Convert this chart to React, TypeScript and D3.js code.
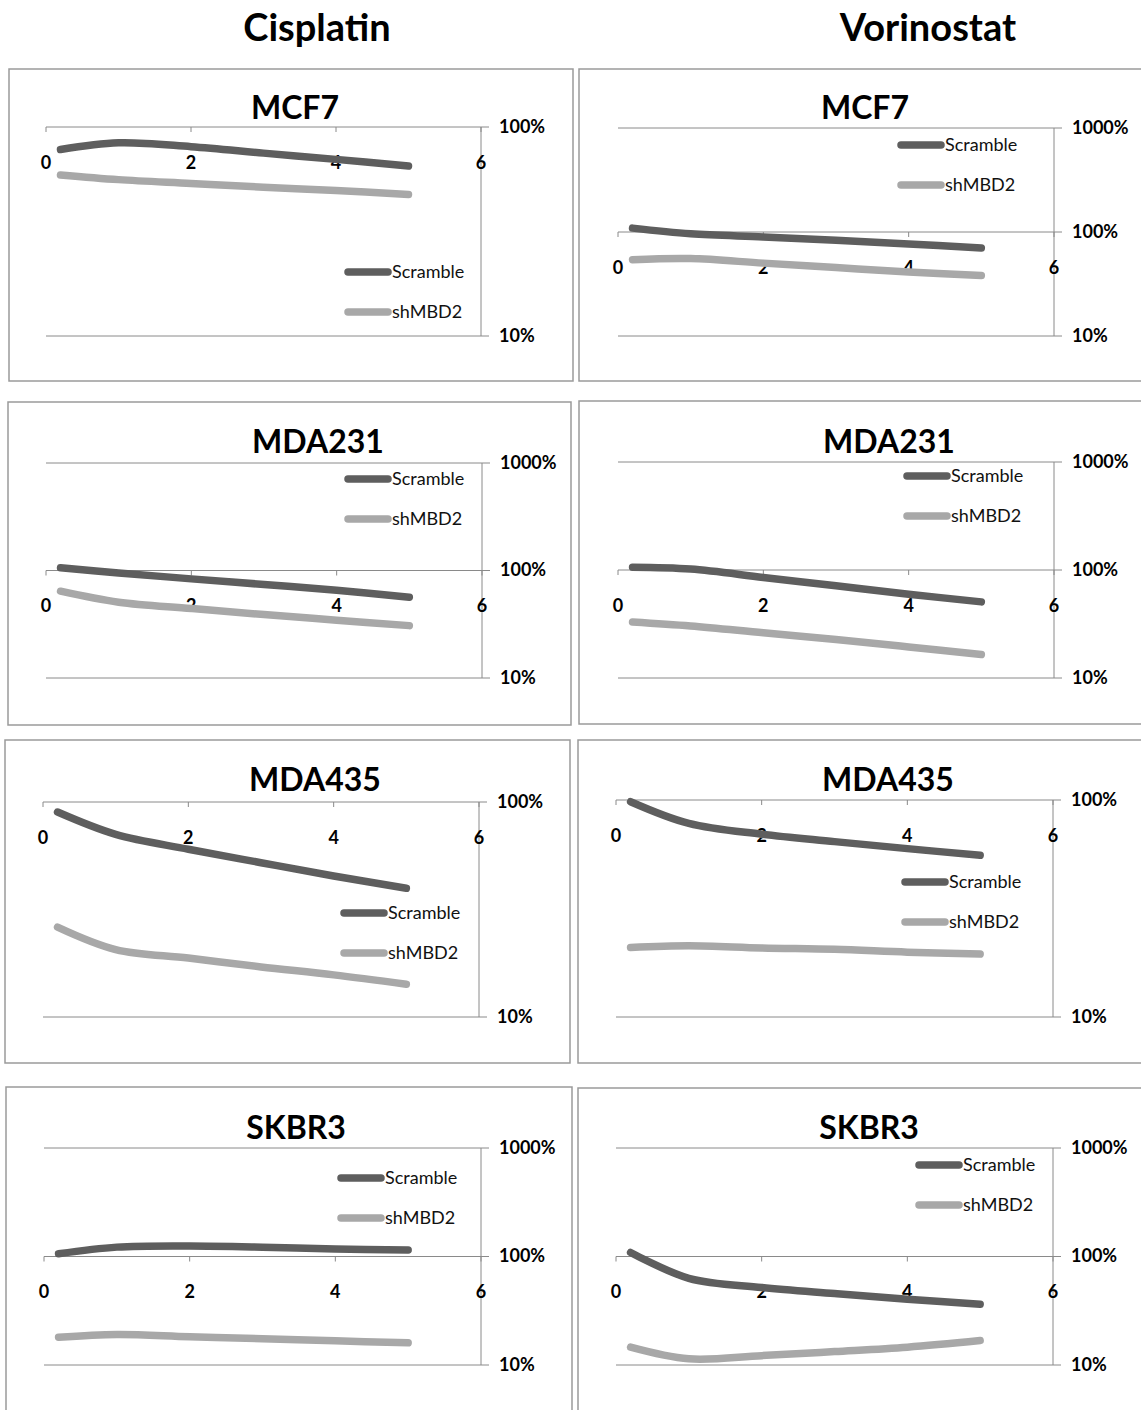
import React from "react";
import * as d3 from "d3";

// Drug columns and cell-line rows of the panel grid
const drugs = ["Cisplatin", "Vorinostat"];
const cellLines = ["MCF7", "MDA231", "MDA435", "SKBR3"];
const seriesNames = ["Scramble", "shMBD2"];

// Sampling positions along the x axis
const xValues = [0.2, 1, 2, 3, 4, 5];
const xTicks = [0, 2, 4, 6];

// Relative viability (%) per panel, Scramble vs shMBD2
const cisMCF7Scramble = [78, 84, 80.5, 75, 70, 65];
const cisMCF7Sh = [59, 56, 53.7, 51.5, 49.7, 47.5];
const vorMCF7Scramble = [109, 96, 89.6, 83.2, 76.7, 70.2];
const vorMCF7Sh = [54.2, 55.5, 50.2, 45.5, 41.3, 38.1];
const cisMDA231Scramble = [106, 95, 83.6, 74.1, 65.6, 56.5];
const cisMDA231Sh = [64.2, 50.7, 44.3, 38.9, 34.5, 30.7];
const vorMDA231Scramble = [106, 102, 85.4, 71.4, 59.7, 50.7];
const vorMDA231Sh = [33, 30.3, 26.2, 22.7, 19.4, 16.5];
const cisMDA435Scramble = [89.8, 70.7, 60.3, 52.2, 45.3, 39.7];
const cisMDA435Sh = [26.2, 20.6, 18.8, 17.1, 15.7, 14.2];
const vorMDA435Scramble = [98.2, 78, 69.5, 64.3, 59.7, 55.6];
const vorMDA435Sh = [20.9, 21.3, 20.8, 20.5, 19.9, 19.5];
const cisSKBR3Scramble = [106, 122, 125, 122, 117, 115];
const cisSKBR3Sh = [18, 19.1, 18.2, 17.5, 16.7, 16.0];
const vorSKBR3Scramble = [109, 63, 51.9, 45.6, 40.4, 36.3];
const vorSKBR3Sh = [14.6, 11.4, 12.2, 13.3, 14.6, 16.8];

// Upper end of each panel's log axis (%)
const axisMax = [100, 1000, 1000, 1000, 100, 100, 1000, 1000];

const panelSeries = [
  [cisMCF7Scramble, cisMCF7Sh],
  [vorMCF7Scramble, vorMCF7Sh],
  [cisMDA231Scramble, cisMDA231Sh],
  [vorMDA231Scramble, vorMDA231Sh],
  [cisMDA435Scramble, cisMDA435Sh],
  [vorMDA435Scramble, vorMDA435Sh],
  [cisSKBR3Scramble, cisSKBR3Sh],
  [vorSKBR3Scramble, vorSKBR3Sh],
];

// Panel geometry: frame box, plot extents, title and legend anchors
const layout = [
  { bx: 9, by: 69, bw: 564, bh: 312, x0: 46, x6: 481, yTop: 127, yBot: 336, tx: 295, ty: 119, lx: 348, ly: 272 },
  { bx: 579, by: 69, bw: 570, bh: 312, x0: 618, x6: 1054, yTop: 128, yBot: 336, tx: 865, ty: 119, lx: 901, ly: 145 },
  { bx: 8, by: 402, bw: 563, bh: 323, x0: 46, x6: 482, yTop: 463, yBot: 678, tx: 318, ty: 453, lx: 348, ly: 479 },
  { bx: 579, by: 401, bw: 570, bh: 323, x0: 618, x6: 1054, yTop: 462, yBot: 678, tx: 889, ty: 453, lx: 907, ly: 476 },
  { bx: 5, by: 740, bw: 565, bh: 323, x0: 43, x6: 479, yTop: 802, yBot: 1017, tx: 315, ty: 791, lx: 344, ly: 913 },
  { bx: 578, by: 740, bw: 570, bh: 323, x0: 616, x6: 1053, yTop: 800, yBot: 1017, tx: 888, ty: 791, lx: 905, ly: 882 },
  { bx: 6, by: 1087, bw: 566, bh: 340, x0: 44, x6: 481, yTop: 1148, yBot: 1365, tx: 296, ty: 1139, lx: 341, ly: 1178 },
  { bx: 578, by: 1088, bw: 570, bh: 340, x0: 616, x6: 1053, yTop: 1148, yBot: 1365, tx: 869, ty: 1139, lx: 919, ly: 1165 },
];

const headerX = [317, 928];
const colors = ["#5e5e5e", "#a8a8a8"];
const axisColor = "#8a8a8a";
const font = "Lato, 'Open Sans', sans-serif";

function Panel({ index }: { index: number }) {
  const g = layout[index];
  const top = axisMax[index];
  const x = d3.scaleLinear().domain([0, 6]).range([g.x0, g.x6]);
  const y = d3.scaleLog().domain([10, top]).range([g.yBot, g.yTop]);
  const decades = top === 1000 ? [10, 100, 1000] : [10, 100];
  const line = d3
    .line<[number, number]>()
    .x((d) => x(d[0]))
    .y((d) => y(d[1]))
    .curve(d3.curveCatmullRom.alpha(0.5));
  const axisY = y(100);
  const title = cellLines[Math.floor(index / 2)];

  return (
    <g>
      <rect x={g.bx} y={g.by} width={g.bw} height={g.bh} fill="#fff" stroke="#9a9a9a" strokeWidth={1.5} />
      <text x={g.tx} y={g.ty} textAnchor="middle" fontFamily={font} fontWeight="bold" fontSize={32} fill="#000">
        {title}
      </text>
      {/* decade gridlines with outward ticks on the right axis */}
      {decades.map((d) => (
        <g key={d}>
          <line x1={x(0)} x2={x(6) + 8} y1={y(d)} y2={y(d)} stroke={axisColor} strokeWidth={1} />
          <text x={x(6) + 18} y={y(d) + 1} dominantBaseline="middle" fontFamily={font} fontWeight="bold" fontSize={18} fill="#000">
            {d}%
          </text>
        </g>
      ))}
      {/* right value axis */}
      <line x1={x(6)} x2={x(6)} y1={y(top)} y2={y(10)} stroke={axisColor} strokeWidth={1} />
      {/* category axis crossing at 100% */}
      {xTicks.map((t) => (
        <g key={t}>
          <line x1={x(t)} x2={x(t)} y1={axisY} y2={axisY + 5} stroke={axisColor} strokeWidth={1} />
          <text x={x(t)} y={axisY + 37} textAnchor="middle" dominantBaseline="middle" fontFamily={font} fontWeight="bold" fontSize={18} fill="#000">
            {t}
          </text>
        </g>
      ))}
      {panelSeries[index].map((vals, si) => (
        <path
          key={si}
          d={line(xValues.map((xv, i) => [xv, vals[i]] as [number, number])) || ""}
          fill="none"
          stroke={colors[si]}
          strokeWidth={7.5}
          strokeLinecap="round"
          strokeLinejoin="round"
        />
      ))}
      {seriesNames.map((name, si) => (
        <g key={name}>
          <line x1={g.lx} x2={g.lx + 40} y1={g.ly + si * 40} y2={g.ly + si * 40} stroke={colors[si]} strokeWidth={7.5} strokeLinecap="round" />
          <text x={g.lx + 44} y={g.ly + si * 40 + 1} dominantBaseline="middle" fontFamily={font} fontSize={18} fill="#111">
            {name}
          </text>
        </g>
      ))}
    </g>
  );
}

export default function App() {
  return (
    <svg width={1141} height={1410} style={{ position: "absolute", left: 0, top: 0, background: "#fff" }}>
      <rect x={0} y={0} width={1141} height={1410} fill="#fff" />
      {drugs.map((d, i) => (
        <text key={d} x={headerX[i]} y={41} textAnchor="middle" fontFamily={font} fontWeight="bold" fontSize={38} fill="#000">
          {d}
        </text>
      ))}
      {layout.map((_, i) => (
        <Panel key={i} index={i} />
      ))}
    </svg>
  );
}
